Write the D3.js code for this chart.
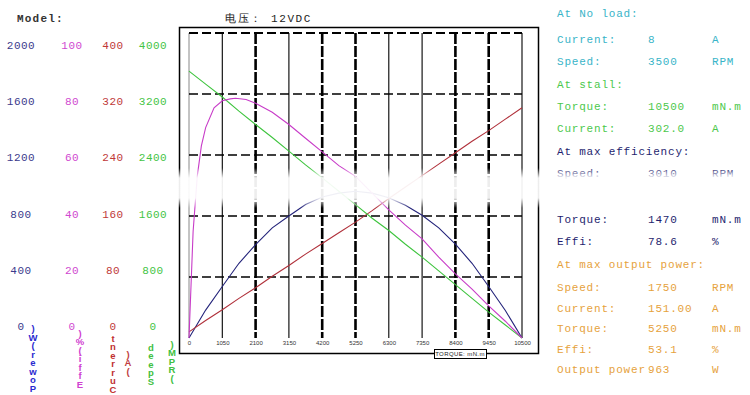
<!DOCTYPE html>
<html>
<head>
<meta charset="utf-8">
<script src="https://cdn.jsdelivr.net/npm/d3@7"></script>
<style>
  body { margin: 0; background: #fff; }
  svg { display: block; }
  text { font-family: "Liberation Mono", "DejaVu Sans Mono", monospace; }
  .vname { writing-mode: vertical-rl; text-orientation: upright; font-family: "Liberation Sans", Arial, sans-serif; }
</style>
</head>
<body>
<script>
// ---------------- DATA ----------------
const xTicks = [0, 1050, 2100, 3150, 4200, 5250, 6300, 7350, 8400, 9450, 10500];
const torque = [0, 525, 1050, 1575, 2100, 2625, 3150, 3675, 4200, 4725, 5250, 5775, 6300, 6825, 7350, 7875, 8400, 8925, 9450, 9975, 10500];
const speedRPM = [3500, 3330, 3160, 2975, 2800, 2630, 2450, 2270, 2100, 1925, 1750, 1570, 1410, 1230, 1060, 880, 700, 520, 340, 170, 0];
const currentA = [8, 23, 37, 52, 66, 81, 95, 110, 124, 138, 152, 167, 183, 198, 213, 228, 243, 258, 272, 287, 302];
const powerW = [0, 183, 338, 490, 612, 722, 800, 875, 925, 950, 962, 950, 920, 870, 805, 722, 615, 490, 338, 180, 0];
const effTorque = [0, 130, 260, 390, 525, 790, 1050, 1300, 1470, 1800, 2100, 2625, 3150, 3675, 4200, 4725, 5250, 5775, 6300, 6825, 7350, 7875, 8400, 8925, 9450, 9975, 10500];
const effPct = [0, 35, 53, 63, 69, 75.5, 77.8, 78.4, 78.6, 78.2, 77, 74, 70, 65.5, 61, 56.5, 53, 47.5, 42, 37, 32.5, 26.5, 21, 16, 10.5, 5.5, 0];

const powerTicks = [0, 400, 800, 1200, 1600, 2000];
const effTicks = [0, 20, 40, 60, 80, 100];
const currentTicks = [0, 80, 160, 240, 320, 400];
const speedTicks = [0, 800, 1600, 2400, 3200, 4000];

const axisNames = ["Power(W)", "Effi(%)", "Current", "(A)", "Speed", "(RPM)"];

const title = "电压： 12VDC";
const modelLabel = "Model:";
const xAxisName = "TORQUE: mN.m";

const panelLabels = ["At No load:", "Current:", "Speed:", "At stall:", "Torque:", "Current:",
  "At max efficiency:", "Speed:", "Torque:", "Effi:", "At max output power:", "Speed:", "Current:", "Torque:", "Effi:", "Output power"];
const panelValues = ["", "8", "3500", "", "10500", "302.0", "", "3010", "1470", "78.6", "", "1750", "151.00", "5250", "53.1", "963"];
const panelUnits = ["", "A", "RPM", "", "mN.m", "A", "", "RPM", "mN.m", "%", "", "RPM", "A", "mN.m", "%", "W"];
const panelGroup = [0, 0, 0, 1, 1, 1, 2, 2, 2, 2, 3, 3, 3, 3, 3, 3];
const panelRow = [0, 1, 2, 3, 4, 5, 6, 7, 9, 10, 11, 12, 13, 14, 15, 16];

// ---------------- DRAWING ----------------
const W = 750, H = 395;
const svg = d3.select("body").append("svg").attr("width", W).attr("height", H);

const L = 189, R = 522, T = 33, B = 338;
const x = d3.scaleLinear().domain([0, 10500]).range([L, R]);
const yPower = d3.scaleLinear().domain([0, 2000]).range([B, T]);
const yEff = d3.scaleLinear().domain([0, 100]).range([B, T]);
const yCur = d3.scaleLinear().domain([0, 400]).range([B, T]);
const ySpd = d3.scaleLinear().domain([0, 4000]).range([B, T]);

const cBlue = "#23237a", cMag = "#c83cc8", cRed = "#b0303a", cGreen = "#3ec43e";

// outer frame
svg.append("rect").attr("x", 179.5).attr("y", 27.5).attr("width", 359).attr("height", 326)
  .attr("fill", "none").attr("stroke", "#000").attr("stroke-width", 1.5);

// grid
const g = svg.append("g");
const thick = new Set([2100, 4200, 5250, 8400, 9450]);
xTicks.forEach(v => {
  if (v === 0) {
    g.append("line").attr("x1", x(v)).attr("x2", x(v)).attr("y1", T).attr("y2", B)
      .attr("stroke", "#888").attr("stroke-width", 1);
  } else if (thick.has(v)) {
    g.append("line").attr("x1", x(v)).attr("x2", x(v)).attr("y1", T).attr("y2", B)
      .attr("stroke", "#000").attr("stroke-width", 2.6).attr("stroke-dasharray", "11,2");
  } else {
    g.append("line").attr("x1", x(v)).attr("x2", x(v)).attr("y1", T).attr("y2", B)
      .attr("stroke", "#000").attr("stroke-width", 1.1);
  }
});
powerTicks.slice(1).forEach(v => {
  g.append("line").attr("x1", L).attr("x2", R).attr("y1", yPower(v)).attr("y2", yPower(v))
    .attr("stroke", "#000").attr("stroke-width", v === 2000 ? 2 : 1.5).attr("stroke-dasharray", "9,4");
});

// curves
function curve(xs, ys, yScale, color) {
  const pts = xs.map((t, i) => [x(t), yScale(ys[i])]);
  svg.append("path").attr("d", d3.line()(pts)).attr("fill", "none")
    .attr("stroke", color).attr("stroke-width", 1.1);
}
curve(torque, powerW, yPower, cBlue);
curve(torque, currentA, yCur, cRed);
curve(torque, speedRPM, ySpd, cGreen);
curve(effTorque, effPct, yEff, cMag);

// x axis labels
const xa = svg.append("g").attr("transform", `translate(0,${B + 2})`)
  .call(d3.axisBottom(x).tickValues(xTicks).tickSize(0).tickPadding(1).tickFormat(d3.format("d")));
xa.select(".domain").remove();
xa.selectAll("text").attr("font-size", 6).attr("fill", "#333")
  .style("font-family", "'Liberation Sans', Arial, sans-serif");

// torque box
const tbx = 434, tby = 349;
svg.append("rect").attr("x", tbx + 0.5).attr("y", tby + 0.5).attr("width", 52).attr("height", 9)
  .attr("fill", "#fff").attr("stroke", "#000").attr("stroke-width", 1);
svg.append("text").attr("x", tbx + 26).attr("y", tby + 7).attr("text-anchor", "middle")
  .attr("font-size", 6).attr("fill", "#222").attr("letter-spacing", 0.4)
  .style("font-family", "'Liberation Sans', Arial, sans-serif").text(xAxisName);

// title & model
svg.append("text").attr("x", 225).attr("y", 22).attr("font-size", 11).attr("fill", "#222")
  .attr("letter-spacing", 1.6).text(title);
svg.append("text").attr("x", 17).attr("y", 22).attr("font-size", 11).attr("fill", "#333")
  .attr("font-weight", "bold").attr("letter-spacing", 1.2).text(modelLabel);

// left tick label columns
const yLab = d3.scaleLinear().domain([0, 5]).range([326, 45]);
const cols = [
  { ticks: powerTicks, cx: 21, color: "#3a3a8c" },
  { ticks: effTicks, cx: 72, color: "#d048d0" },
  { ticks: currentTicks, cx: 113, color: "#c03838" },
  { ticks: speedTicks, cx: 153, color: "#44c444" }
];
cols.forEach(c => {
  svg.append("g").selectAll("text").data(c.ticks).join("text")
    .attr("x", c.cx).attr("y", (d, i) => yLab(i) + 4)
    .attr("text-anchor", "middle").attr("font-size", 11).attr("letter-spacing", 0.5)
    .attr("fill", c.color).text(d => d);
});

// stacked axis names (upright letters, reading bottom to top)
const nameCols = [
  { name: axisNames[0], cx: 33, bottom: 391, color: "#2a2ad0" },
  { name: axisNames[1], cx: 80, bottom: 387, color: "#d040d0" },
  { name: axisNames[2], cx: 113, bottom: 392, color: "#c03030" },
  { name: axisNames[3], cx: 128, bottom: 374, color: "#c04040" },
  { name: axisNames[4], cx: 151, bottom: 384, color: "#40c040" },
  { name: axisNames[5], cx: 172, bottom: 381, color: "#40c040" }
];
nameCols.forEach(c => {
  svg.append("text").attr("class", "vname")
    .attr("x", c.cx).attr("y", c.bottom).attr("text-anchor", "end")
    .attr("font-size", 9.5).attr("font-weight", "bold").attr("letter-spacing", -2.5)
    .attr("fill", c.color)
    .text(c.name.split("").reverse().join(""));
});

// right info panel
const groupColors = ["#38b4c8", "#4cc84c", "#1e1e6e", "#e6a23c"];
const rowY = d3.scaleLinear().domain([0, 1, 7, 12, 16]).range([13, 39, 173, 287, 369]);
const panel = svg.append("g");
panelLabels.forEach((lab, i) => {
  const yy = rowY(panelRow[i]) + 4;
  const col = groupColors[panelGroup[i]];
  panel.append("text").attr("x", 557).attr("y", yy).attr("font-size", 11)
    .attr("letter-spacing", 0.8).attr("fill", col).text(lab);
  if (panelValues[i]) panel.append("text").attr("x", 648).attr("y", yy).attr("font-size", 11)
    .attr("letter-spacing", 0.8).attr("fill", col).text(panelValues[i]);
  if (panelUnits[i]) panel.append("text").attr("x", 712).attr("y", yy).attr("font-size", 11)
    .attr("letter-spacing", 0.8).attr("fill", col).text(panelUnits[i]);
});

// faded band (as in the reference picture)
const defs = svg.append("defs");
const grad = defs.append("linearGradient").attr("id", "band").attr("x1", 0).attr("x2", 0).attr("y1", 0).attr("y2", 1);
grad.append("stop").attr("offset", "0%").attr("stop-color", "#fff").attr("stop-opacity", 0);
grad.append("stop").attr("offset", "25%").attr("stop-color", "#fff").attr("stop-opacity", 0.93);
grad.append("stop").attr("offset", "75%").attr("stop-color", "#fff").attr("stop-opacity", 0.93);
grad.append("stop").attr("offset", "100%").attr("stop-color", "#fff").attr("stop-opacity", 0);
svg.append("rect").attr("x", 0).attr("y", 168).attr("width", W).attr("height", 40).attr("fill", "url(#band)");
</script>
</body>
</html>
